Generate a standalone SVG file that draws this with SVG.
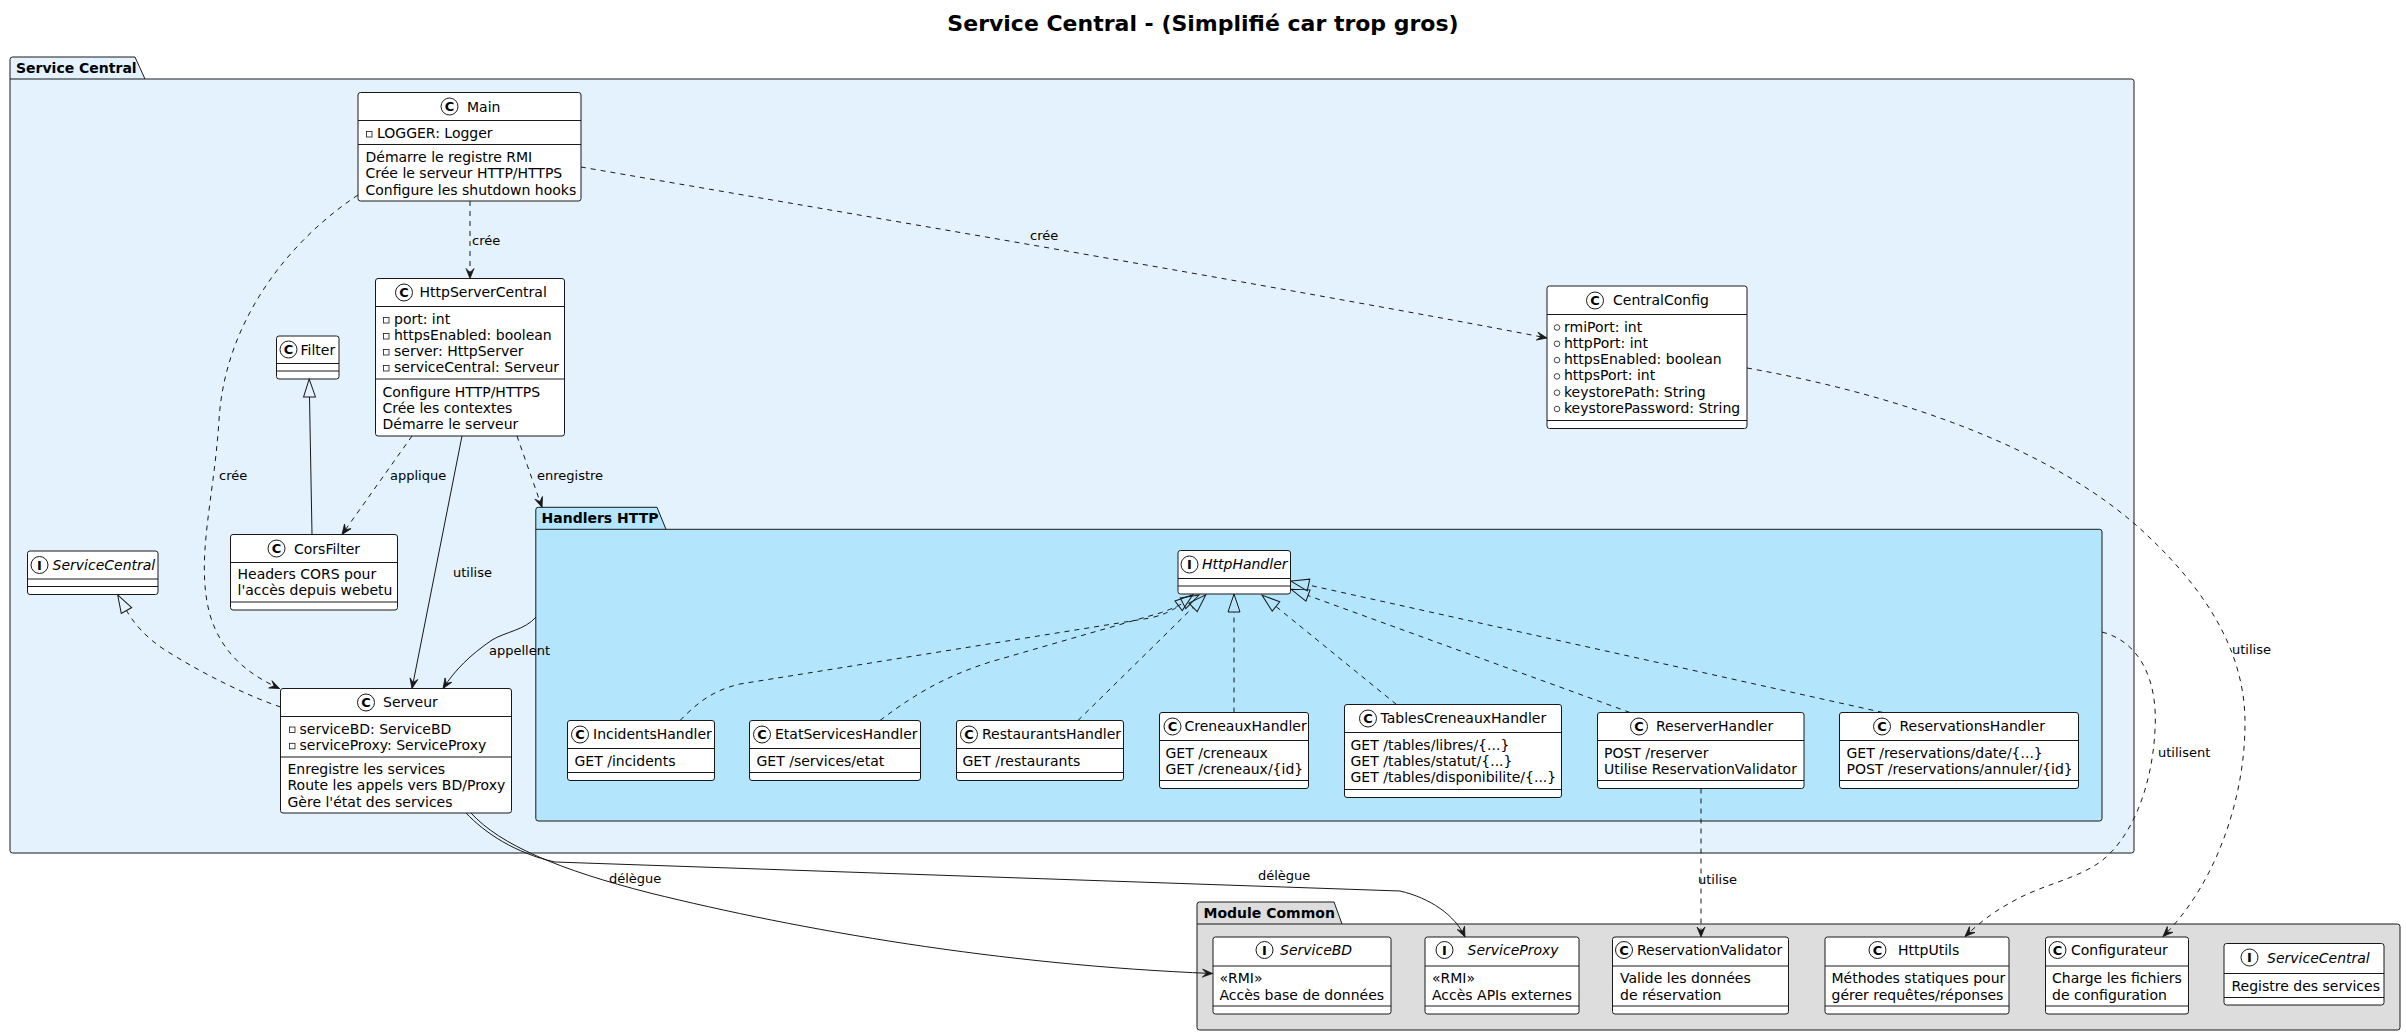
<svg xmlns="http://www.w3.org/2000/svg" width="2406" height="1036" viewBox="0 0 2406 1036">
<style>
text{font-family:"DejaVu Sans","Liberation Sans",sans-serif;fill:#000}
.t{font-size:14px}
.it{font-style:italic}
.lbl{font-size:13px}
.pk{font-size:14px;font-weight:bold}
.title{font-size:22px;font-weight:bold}
.box{fill:#FFFFFF;stroke:#181818;stroke-width:1}
.sep{fill:none;stroke:#181818;stroke-width:1}
.spot{fill:#FFFFFF;stroke:#181818;stroke-width:1}
.spotL{font-size:13px;font-weight:bold;text-anchor:middle}
.priv{fill:none;stroke:#181818;stroke-width:0.8}
.pub{fill:none;stroke:#181818;stroke-width:0.8}
.pkg{stroke:#181818;stroke-width:1}
.edge{fill:none;stroke:#181818;stroke-width:1}
.dash{stroke-dasharray:5,5}
.arr{marker-end:url(#arr)}
.inh{marker-end:url(#tri)}
</style>
<defs>
<marker id="arr" markerWidth="11" markerHeight="9" refX="10" refY="4" orient="auto" markerUnits="userSpaceOnUse" overflow="visible">
<path d="M0,0 L10,4 L0,8 L4,4 Z" fill="#181818" stroke="#181818" stroke-width="0.8"/>
</marker>
<marker id="tri" markerWidth="19" markerHeight="13" refX="0" refY="6" orient="auto" markerUnits="userSpaceOnUse" overflow="visible">
<path d="M0,0 L18,6 L0,12 Z" fill="none" stroke="#181818" stroke-width="1"/>
</marker>
</defs>
<rect x="0" y="0" width="2406" height="1036" fill="#FFFFFF"/>
<text class="title" x="1203" y="31" text-anchor="middle">Service Central - (Simplifié car trop gros)</text>

<g id="pkg-service-central">
<path class="pkg" fill="#E3F2FD" d="M12.5,57 L135,57 L145,79 L2131.5,79 Q2134,79 2134,81.5 L2134,850.5 Q2134,853 2131.5,853 L12.5,853 Q10,853 10,850.5 L10,59.5 Q10,57 12.5,57 Z"/>
<path class="sep" d="M10,79 H145"/>
<text class="pk" x="16" y="72.5">Service Central</text>
</g>

<g id="pkg-handlers-http">
<path class="pkg" fill="#B3E5FC" d="M538.3,507.3 L657,507.3 L666,529.3 L2099.5,529.3 Q2102,529.3 2102,531.8 L2102,818.5 Q2102,821 2099.5,821 L538.3,821 Q535.8,821 535.8,818.5 L535.8,509.8 Q535.8,507.3 538.3,507.3 Z"/>
<path class="sep" d="M535.8,529.3 H666"/>
<text class="pk" x="541.5" y="523">Handlers HTTP</text>
</g>

<g id="pkg-module-common">
<path class="pkg" fill="#DDDDDD" d="M1199.5,902 L1334,902 L1342,924 L2397.5,924 Q2400,924 2400,926.5 L2400,1027.5 Q2400,1030 2397.5,1030 L1199.5,1030 Q1197,1030 1197,1027.5 L1197,904.5 Q1197,902 1199.5,902 Z"/>
<path class="sep" d="M1197,924 H1342"/>
<text class="pk" x="1203.5" y="917.5">Module Common</text>
</g>

<g id="Main">
<rect class="box" x="358" y="92.5" width="223" height="108.5" rx="2.5"/>
<path class="sep" d="M358,120.5H581M358,144.5H581"/>
<circle class="spot" cx="449.5" cy="106.5" r="8.5"/><text class="spotL" x="449.5" y="111.2">C</text>
<text class="t" x="467" y="111.5">Main</text>
<rect class="priv" x="366.5" y="131.5" width="5.5" height="5.5"/>
<text class="t" x="377" y="138">LOGGER: Logger</text>
<text class="t" x="365.5" y="162">Démarre le registre RMI</text>
<text class="t" x="365.5" y="178.3">Crée le serveur HTTP/HTTPS</text>
<text class="t" x="365.5" y="194.6">Configure les shutdown hooks</text>
</g>

<g id="HttpServerCentral">
<rect class="box" x="375.5" y="278.5" width="189" height="157.5" rx="2.5"/>
<path class="sep" d="M375.5,306.5H564.5M375.5,379H564.5"/>
<circle class="spot" cx="404" cy="292.5" r="8.5"/><text class="spotL" x="404" y="297.2">C</text>
<text class="t" x="419.5" y="297">HttpServerCentral</text>
<rect class="priv" x="383.5" y="317.5" width="5.5" height="5.5"/>
<rect class="priv" x="383.5" y="333.5" width="5.5" height="5.5"/>
<rect class="priv" x="383.5" y="349.5" width="5.5" height="5.5"/>
<rect class="priv" x="383.5" y="365.5" width="5.5" height="5.5"/>
<text class="t" x="394" y="324">port: int</text>
<text class="t" x="394" y="340">httpsEnabled: boolean</text>
<text class="t" x="394" y="356">server: HttpServer</text>
<text class="t" x="394" y="372">serviceCentral: Serveur</text>
<text class="t" x="382.5" y="396.5">Configure HTTP/HTTPS</text>
<text class="t" x="382.5" y="412.8">Crée les contextes</text>
<text class="t" x="382.5" y="429">Démarre le serveur</text>
</g>

<g id="Filter">
<rect class="box" x="276.5" y="336" width="62.5" height="43" rx="2.5"/>
<path class="sep" d="M276.5,363.5H339M276.5,371H339"/>
<circle class="spot" cx="288.5" cy="349.5" r="8.5"/><text class="spotL" x="288.5" y="354.2">C</text>
<text class="t" x="300.5" y="354.5">Filter</text>
</g>

<g id="CorsFilter">
<rect class="box" x="230.5" y="534.5" width="167" height="75.5" rx="2.5"/>
<path class="sep" d="M230.5,562.5H397.5M230.5,602H397.5"/>
<circle class="spot" cx="276.5" cy="548.5" r="8.5"/><text class="spotL" x="276.5" y="553.2">C</text>
<text class="t" x="294" y="553.5">CorsFilter</text>
<text class="t" x="237.5" y="579">Headers CORS pour</text>
<text class="t" x="237.5" y="595.3">l'accès depuis webetu</text>
</g>

<g id="ServiceCentral-local">
<rect class="box" x="27.5" y="551" width="130.5" height="43.5" rx="2.5"/>
<path class="sep" d="M27.5,579H158M27.5,586.5H158"/>
<circle class="spot" cx="39.5" cy="565" r="8.5"/><text class="spotL" x="39.5" y="569.7">I</text>
<text class="t it" x="52.5" y="569.5">ServiceCentral</text>
</g>

<g id="Serveur">
<rect class="box" x="280.5" y="688.5" width="231" height="124.5" rx="2.5"/>
<path class="sep" d="M280.5,716.5H511.5M280.5,757H511.5"/>
<circle class="spot" cx="366" cy="702.5" r="8.5"/><text class="spotL" x="366" y="707.2">C</text>
<text class="t" x="383" y="707">Serveur</text>
<rect class="priv" x="289.5" y="727" width="5.5" height="5.5"/>
<rect class="priv" x="289.5" y="743.3" width="5.5" height="5.5"/>
<text class="t" x="299.5" y="733.5">serviceBD: ServiceBD</text>
<text class="t" x="299.5" y="749.8">serviceProxy: ServiceProxy</text>
<text class="t" x="287.5" y="774">Enregistre les services</text>
<text class="t" x="287.5" y="790.3">Route les appels vers BD/Proxy</text>
<text class="t" x="287.5" y="806.6">Gère l'état des services</text>
</g>

<g id="CentralConfig">
<rect class="box" x="1547" y="286" width="200" height="142.5" rx="2.5"/>
<path class="sep" d="M1547,314.5H1747M1547,420.5H1747"/>
<circle class="spot" cx="1595" cy="300.5" r="8.5"/><text class="spotL" x="1595" y="305.2">C</text>
<text class="t" x="1613" y="305">CentralConfig</text>
<circle class="pub" cx="1557" cy="327.5" r="2.8"/>
<circle class="pub" cx="1557" cy="343.8" r="2.8"/>
<circle class="pub" cx="1557" cy="360.1" r="2.8"/>
<circle class="pub" cx="1557" cy="376.4" r="2.8"/>
<circle class="pub" cx="1557" cy="392.7" r="2.8"/>
<circle class="pub" cx="1557" cy="409" r="2.8"/>
<text class="t" x="1564" y="331.5">rmiPort: int</text>
<text class="t" x="1564" y="347.8">httpPort: int</text>
<text class="t" x="1564" y="364.1">httpsEnabled: boolean</text>
<text class="t" x="1564" y="380.4">httpsPort: int</text>
<text class="t" x="1564" y="396.7">keystorePath: String</text>
<text class="t" x="1564" y="413">keystorePassword: String</text>
</g>

<g id="HttpHandler">
<rect class="box" x="1178" y="550.5" width="112.5" height="43.5" rx="2.5"/>
<path class="sep" d="M1178,578.5H1290.5M1178,586H1290.5"/>
<circle class="spot" cx="1189.5" cy="564.5" r="8.5"/><text class="spotL" x="1189.5" y="569.2">I</text>
<text class="t it" x="1202" y="569">HttpHandler</text>
</g>

<g id="IncidentsHandler">
<rect class="box" x="567.5" y="720.5" width="147" height="60" rx="2.5"/>
<path class="sep" d="M567.5,748.5H714.5M567.5,772.5H714.5"/>
<circle class="spot" cx="580" cy="734.5" r="8.5"/><text class="spotL" x="580" y="739.2">C</text>
<text class="t" x="593" y="739">IncidentsHandler</text>
<text class="t" x="574.5" y="765.5">GET /incidents</text>
</g>

<g id="EtatServicesHandler">
<rect class="box" x="749.5" y="720.5" width="171" height="60" rx="2.5"/>
<path class="sep" d="M749.5,748.5H920.5M749.5,772.5H920.5"/>
<circle class="spot" cx="762" cy="734.5" r="8.5"/><text class="spotL" x="762" y="739.2">C</text>
<text class="t" x="775" y="739">EtatServicesHandler</text>
<text class="t" x="756.5" y="765.5">GET /services/etat</text>
</g>

<g id="RestaurantsHandler">
<rect class="box" x="956.5" y="720.5" width="167" height="60" rx="2.5"/>
<path class="sep" d="M956.5,748.5H1123.5M956.5,772.5H1123.5"/>
<circle class="spot" cx="969" cy="734.5" r="8.5"/><text class="spotL" x="969" y="739.2">C</text>
<text class="t" x="982" y="739">RestaurantsHandler</text>
<text class="t" x="962.5" y="765.5">GET /restaurants</text>
</g>

<g id="CreneauxHandler">
<rect class="box" x="1159.5" y="712.5" width="149" height="76" rx="2.5"/>
<path class="sep" d="M1159.5,740.5H1308.5M1159.5,780.5H1308.5"/>
<circle class="spot" cx="1172.5" cy="726.5" r="8.5"/><text class="spotL" x="1172.5" y="731.2">C</text>
<text class="t" x="1184.5" y="731">CreneauxHandler</text>
<text class="t" x="1165.5" y="757.5">GET /creneaux</text>
<text class="t" x="1165.5" y="773.8">GET /creneaux/{id}</text>
</g>

<g id="TablesCreneauxHandler">
<rect class="box" x="1344.5" y="704.5" width="217" height="93" rx="2.5"/>
<path class="sep" d="M1344.5,732.5H1561.5M1344.5,789.5H1561.5"/>
<circle class="spot" cx="1368" cy="718.5" r="8.5"/><text class="spotL" x="1368" y="723.2">C</text>
<text class="t" x="1380.5" y="723">TablesCreneauxHandler</text>
<text class="t" x="1350.5" y="749.5">GET /tables/libres/{...}</text>
<text class="t" x="1350.5" y="765.8">GET /tables/statut/{...}</text>
<text class="t" x="1350.5" y="782.1">GET /tables/disponibilite/{...}</text>
</g>

<g id="ReserverHandler">
<rect class="box" x="1597.5" y="712.5" width="206.5" height="76" rx="2.5"/>
<path class="sep" d="M1597.5,740.5H1804M1597.5,780.5H1804"/>
<circle class="spot" cx="1639" cy="726.5" r="8.5"/><text class="spotL" x="1639" y="731.2">C</text>
<text class="t" x="1656" y="731">ReserverHandler</text>
<text class="t" x="1604" y="757.5">POST /reserver</text>
<text class="t" x="1604" y="773.8">Utilise ReservationValidator</text>
</g>

<g id="ReservationsHandler">
<rect class="box" x="1839.5" y="712.5" width="239" height="76" rx="2.5"/>
<path class="sep" d="M1839.5,740.5H2078.5M1839.5,780.5H2078.5"/>
<circle class="spot" cx="1882" cy="726.5" r="8.5"/><text class="spotL" x="1882" y="731.2">C</text>
<text class="t" x="1899.5" y="731">ReservationsHandler</text>
<text class="t" x="1846.5" y="757.5">GET /reservations/date/{...}</text>
<text class="t" x="1846.5" y="773.8">POST /reservations/annuler/{id}</text>
</g>

<g id="ServiceBD">
<rect class="box" x="1213" y="937" width="178" height="77" rx="2.5"/>
<path class="sep" d="M1213,966H1391M1213,1006H1391"/>
<circle class="spot" cx="1264.5" cy="950" r="8.5"/><text class="spotL" x="1264.5" y="954.7">I</text>
<text class="t it" x="1280" y="955">ServiceBD</text>
<text class="t" x="1219.5" y="983.3">«RMI»</text>
<text class="t" x="1219.5" y="999.6">Accès base de données</text>
</g>

<g id="ServiceProxy">
<rect class="box" x="1425" y="937" width="154" height="77" rx="2.5"/>
<path class="sep" d="M1425,966H1579M1425,1006H1579"/>
<circle class="spot" cx="1444.5" cy="950" r="8.5"/><text class="spotL" x="1444.5" y="954.7">I</text>
<text class="t it" x="1467.5" y="955">ServiceProxy</text>
<text class="t" x="1432" y="983.3">«RMI»</text>
<text class="t" x="1432" y="999.6">Accès APIs externes</text>
</g>

<g id="ReservationValidator">
<rect class="box" x="1612.5" y="937" width="176" height="77" rx="2.5"/>
<path class="sep" d="M1612.5,966H1788.5M1612.5,1006H1788.5"/>
<circle class="spot" cx="1624" cy="950" r="8.5"/><text class="spotL" x="1624" y="954.7">C</text>
<text class="t" x="1637" y="955">ReservationValidator</text>
<text class="t" x="1620" y="983.3">Valide les données</text>
<text class="t" x="1620" y="999.6">de réservation</text>
</g>

<g id="HttpUtils">
<rect class="box" x="1825" y="937" width="184" height="77" rx="2.5"/>
<path class="sep" d="M1825,966H2009M1825,1006H2009"/>
<circle class="spot" cx="1877.5" cy="950" r="8.5"/><text class="spotL" x="1877.5" y="954.7">C</text>
<text class="t" x="1898" y="955">HttpUtils</text>
<text class="t" x="1831.5" y="983.3">Méthodes statiques pour</text>
<text class="t" x="1831.5" y="999.6">gérer requêtes/réponses</text>
</g>

<g id="Configurateur">
<rect class="box" x="2045.5" y="937" width="143" height="77" rx="2.5"/>
<path class="sep" d="M2045.5,966H2188.5M2045.5,1006H2188.5"/>
<circle class="spot" cx="2057.5" cy="950" r="8.5"/><text class="spotL" x="2057.5" y="954.7">C</text>
<text class="t" x="2071" y="955">Configurateur</text>
<text class="t" x="2052" y="983.3">Charge les fichiers</text>
<text class="t" x="2052" y="999.6">de configuration</text>
</g>

<g id="ServiceCentral-common">
<rect class="box" x="2224" y="943.5" width="160" height="61.5" rx="2.5"/>
<path class="sep" d="M2224,973.5H2384M2224,997.5H2384"/>
<circle class="spot" cx="2249.5" cy="957.5" r="8.5"/><text class="spotL" x="2249.5" y="962.2">I</text>
<text class="t it" x="2267" y="962.5">ServiceCentral</text>
<text class="t" x="2231.5" y="990.5">Registre des services</text>
</g>

<g id="connectors">
<path class="edge dash arr" d="M470,201 L470,278.5"/>
<text class="lbl" x="472" y="245">crée</text>

<path class="edge dash arr" d="M581,167 C800,205 1300,290 1547,338"/>
<text class="lbl" x="1030" y="240">crée</text>

<path class="edge dash arr" d="M358,195 C290,240 225,320 219,420 C214,500 195,560 210,615 C222,655 250,675 279.5,688.5"/>
<text class="lbl" x="219" y="480">crée</text>

<path class="edge dash arr" d="M412,436 L342,534.5"/>
<text class="lbl" x="390" y="480">applique</text>

<path class="edge arr" d="M462,436 L412,688.5"/>
<text class="lbl" x="453" y="577">utilise</text>

<path class="edge dash arr" d="M517,436 L542,507.3"/>
<text class="lbl" x="537" y="480">enregistre</text>

<path class="edge arr" d="M536,617 C525,630 505,632 492,640 C470,655 455,670 443,688.5"/>
<text class="lbl" x="489" y="655">appellent</text>

<path class="edge dash inh" d="M280.5,707 C245,695 200,672 165,650 C145,637 133,622 126.5,610.5"/>
<path class="edge inh" d="M312,534.5 L309.5,397"/>

<path class="edge dash inh" d="M680,720.5 C700,700 715,690 740,684 L1150,618 Q1168,614 1178.6,605.8"/>
<path class="edge dash inh" d="M880,720.5 C920,690 950,675 990,662 L1160,613 Q1172,609 1183,603.3"/>
<path class="edge dash inh" d="M1078,720.5 L1193,607.4"/>
<path class="edge dash inh" d="M1234,712.5 L1234,612"/>
<path class="edge dash inh" d="M1396.5,704.5 L1276,606.5"/>
<path class="edge dash inh" d="M1630,712.5 L1308,595.5"/>
<path class="edge dash inh" d="M1883,712.5 L1308.5,585"/>

<path class="edge dash arr" d="M1701,788.5 L1701,937"/>
<text class="lbl" x="1698" y="884">utilise</text>

<path class="edge dash arr" d="M2102,632 C2140,642 2158,680 2155,730 C2152,790 2130,840 2100,862 C2075,880 2040,885 2010,903 C1993,912 1978,924 1965,936.5"/>
<text class="lbl" x="2158" y="757">utilisent</text>

<path class="edge dash arr" d="M1747,368 C1900,395 2060,450 2150,538 C2215,600 2245,660 2245,723 C2245,800 2215,885 2163,936.5"/>
<text class="lbl" x="2232" y="654">utilise</text>

<path class="edge arr" d="M466,813 C485,833 515,853 555,862 L1400,891 C1430,898 1455,915 1465,937"/>
<text class="lbl" x="1258" y="880">délègue</text>

<path class="edge arr" d="M471,813 C500,845 560,870 650,893 C800,930 1000,965 1212.5,973.5"/>
<text class="lbl" x="609" y="883">délègue</text>
</g>
</svg>
